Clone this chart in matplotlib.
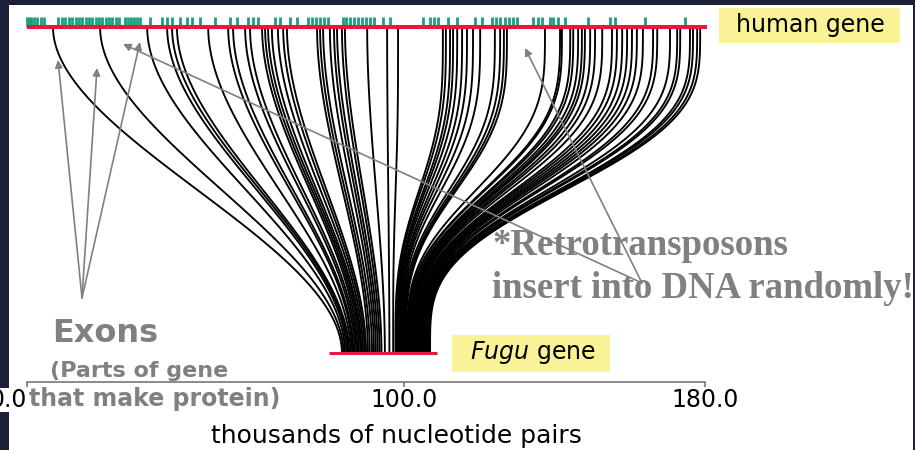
import matplotlib.pyplot as plt
import numpy as np
from matplotlib.patches import Rectangle

W, H = 915, 450

# green exon ticks along the human gene (kb)
human_exons = [
    0.0, 0.5, 1.1, 1.9, 2.7, 3.7, 4.5,
    8.2, 9.3, 10.1, 11.2, 11.9, 13.0, 13.8, 14.6, 15.7, 16.5, 17.3, 18.3,
    19.1, 19.9, 21.0, 21.8, 22.6, 23.6, 24.4, 26.0, 26.8, 27.6, 28.4, 29.2, 30.0,
    32.7, 35.8, 37.2, 38.5, 40.6, 42.5, 43.8,
    45.9, 49.9, 53.9, 55.8, 58.7, 60.0, 61.3, 65.8, 67.2, 69.8, 71.7,
    74.6, 75.7, 76.7, 77.8, 78.8, 79.9, 83.9, 84.7, 85.8, 86.8, 87.9, 88.9,
    90.0, 91.1, 92.1, 94.5, 96.4, 105.1, 107.0, 108.1, 109.1, 111.8, 114.2,
    118.9, 120.8, 123.5, 124.5, 125.6, 126.9, 128.0, 129.0, 130.1,
    134.3, 135.7, 136.7, 138.8, 139.6, 141.0, 142.8, 148.9, 154.8, 156.1,
    164.1, 174.7,
]

# matched exons: position in the human gene -> position in the Fugu gene (kb)
human_kb = [
    6.9, 19.4, 31.9, 37.2, 38.5, 39.8, 48.1, 53.4, 54.7, 57.9, 59.2, 62.4,
    63.2, 64.0, 65.0, 66.6, 68.0, 69.0,
    77.0, 77.8, 78.6, 80.4, 81.5, 82.3, 83.6, 84.4,
    90.3, 95.6, 98.5,
    110.4, 111.2, 112.3, 113.1, 114.2, 115.5, 116.8, 118.4, 120.3, 124.2,
    125.6, 126.6, 127.4, 137.5, 141.5, 142.0, 144.2, 145.0, 146.3, 147.3,
    148.1, 149.5, 150.8, 152.7, 155.3, 156.6, 158.0, 159.3, 160.6, 161.9,
    163.5, 166.2, 167.3, 170.7, 172.6, 173.4, 176.0, 176.8, 177.9, 178.7,
]
fugu_kb = [
    83.6, 84.0, 84.4, 84.8, 85.2, 85.5, 85.9, 86.3, 86.6, 87.0, 87.4, 87.7,
    88.1, 88.5, 88.8, 89.2, 89.6, 90.0,
    90.5, 91.0, 91.6, 92.1, 92.6, 93.1, 93.6, 94.1,
    95.0, 96.2, 97.2,
    97.8, 98.0, 98.3, 98.5, 98.7, 99.0, 99.2, 99.4, 99.7, 99.9,
    100.2, 100.4, 100.6, 100.9, 101.1, 101.3, 101.6, 101.8, 102.0, 102.3,
    102.5, 102.8, 103.0, 103.2, 103.5, 103.7, 103.9, 104.2, 104.4, 104.6,
    104.9, 105.1, 105.4, 105.6, 105.8, 106.1, 106.3, 106.5, 106.8, 107.0,
]

human_gene = [0.0, 180.5]
fugu_gene = [80.2, 108.8]
tick_values = [0, 100, 180]
tick_labels = ["0.0", "100.0", "180.0"]

HUMAN_Y = 1.0
FUGU_Y = 0.0
AXIS_Y = -0.089

GREY = "#808080"
RED = "#e8173f"
GREEN = "#18a07a"
YELLOW = "#faf296"

plt.rcParams["font.family"] = "DejaVu Sans"


def fpx(x, y):
    # image pixel -> figure fraction
    return x / W, 1 - y / H


def smooth(u):
    return u * u * (3 - 2 * u)


fig = plt.figure(figsize=(W / 100, H / 100), dpi=100)
fig.patch.set_facecolor("#1b2036")

ax = fig.add_axes([9 / W, 0, 904 / W, 445 / H])
ax.set_facecolor("white")
ax.set_xlim(-4.78, 235.2)
ax.set_ylim(-0.2975, 1.0675)

# homologous exon connections
for h, f in zip(human_kb, fugu_kb):
    u = np.linspace(0, 1, 100)
    s = smooth(u) if f >= h else smooth(smooth(u))
    ax.plot(
        h + (f - h) * s,
        HUMAN_Y - u * (HUMAN_Y - FUGU_Y),
        color="black",
        lw=1.35,
        zorder=2,
    )

ax.vlines(human_exons, HUMAN_Y, HUMAN_Y + 0.031, color=GREEN, lw=2.0, zorder=3)
ax.plot(human_gene, [HUMAN_Y, HUMAN_Y], color=RED, lw=2.9, solid_capstyle="butt", zorder=4)
ax.plot(fugu_gene, [FUGU_Y, FUGU_Y], color=RED, lw=2.2, solid_capstyle="butt", zorder=4)

# axis
for side in ["top", "left", "right"]:
    ax.spines[side].set_visible(False)
ax.spines["bottom"].set_position(("data", AXIS_Y))
ax.spines["bottom"].set_bounds(0, 180)
ax.spines["bottom"].set_color("#6b6b6b")
ax.spines["bottom"].set_linewidth(1.1)
ax.set_yticks([])
ax.set_xticks(tick_values, tick_labels)
ax.tick_params(
    axis="x",
    direction="out",
    length=3.6,
    width=1.1,
    color="#6b6b6b",
    pad=1,
    labelsize=17,
)
first = ax.xaxis.get_major_ticks()[0].label1
first.set_horizontalalignment("right")
first.set_bbox(dict(facecolor="white", edgecolor="none", pad=0))

ax.set_xlabel("thousands of nucleotide pairs", fontsize=18)
ax.xaxis.set_label_coords(*fpx(396, 424), transform=fig.transFigure)

# gene labels
fig.add_artist(Rectangle(fpx(719, 43), 181 / W, 35 / H, transform=fig.transFigure,
                         facecolor=YELLOW, edgecolor="none"))
fig.text(*fpx(810, 25), "human gene", ha="center", va="center", fontsize=17)
fig.add_artist(Rectangle(fpx(452, 372), 158 / W, 37 / H, transform=fig.transFigure,
                         facecolor=YELLOW, edgecolor="none"))
fig.text(*fpx(533, 353), r"$\it{Fugu}$ gene", ha="center", va="center", fontsize=17)

# slide annotations
fig.text(*fpx(52, 342), "Exons", va="baseline", fontsize=23,
         fontweight="bold", color=GREY)
fig.text(*fpx(50, 377), "(Parts of gene", va="baseline", fontsize=16,
         fontweight="bold", color=GREY)
fig.text(*fpx(29, 406), "that make protein)", va="baseline", fontsize=17,
         fontweight="bold", color=GREY)

fig.text(*fpx(492, 255), "*Retrotransposons", va="baseline", fontsize=26.5,
         family="Liberation Serif", fontweight="bold", color=GREY)
fig.text(*fpx(492, 298), "insert into DNA randomly!", va="baseline", fontsize=26.5,
         family="Liberation Serif", fontweight="bold", color=GREY)

arrow = dict(arrowstyle="-|>", color=GREY, lw=1.2, mutation_scale=11,
             shrinkA=0, shrinkB=0)
for tip in [(58, 60), (97, 68), (140, 42)]:
    ax.annotate("", xy=fpx(*tip), xytext=fpx(82, 298),
                xycoords="figure fraction", textcoords="figure fraction",
                arrowprops=arrow)
for tip in [(123, 44), (525, 48)]:
    ax.annotate("", xy=fpx(*tip), xytext=fpx(642, 283),
                xycoords="figure fraction", textcoords="figure fraction",
                arrowprops=arrow)

fig.savefig("out.png", dpi=100, facecolor=fig.get_facecolor())
